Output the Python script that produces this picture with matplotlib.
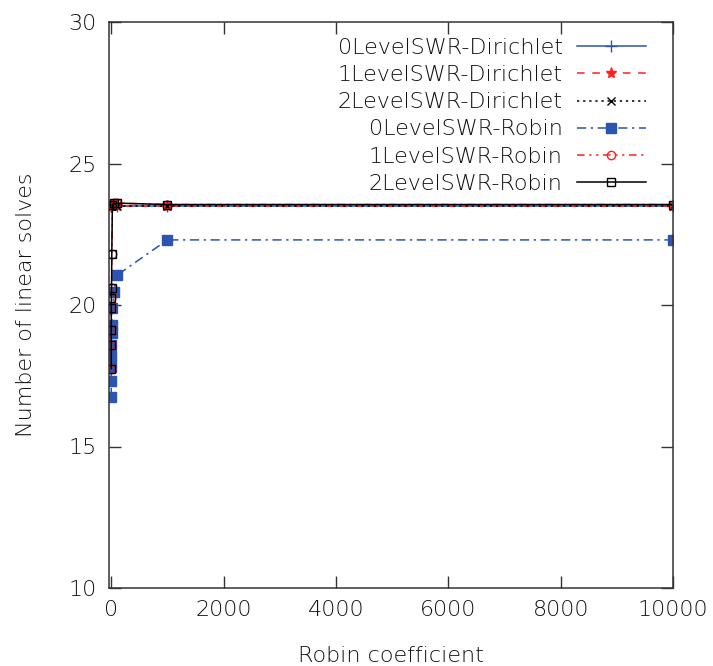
import numpy as np
import matplotlib.pyplot as plt

plt.rcParams['font.family'] = ['DejaVu Sans']
plt.rcParams['font.weight'] = 'light'
plt.rcParams['axes.labelweight'] = 'light'

# Robin coefficients (small values cluster at the left edge)
x_dir = [0.01, 0.1, 1, 10, 100, 1000, 10000]
dir0 = [23.5, 23.5, 23.5, 23.5, 23.5, 23.5, 23.5]
dir1 = [23.5, 23.5, 23.5, 23.5, 23.5, 23.5, 23.5]
dir2 = [23.5, 23.5, 23.5, 23.5, 23.5, 23.5, 23.5]

x_rob = [0.01, 0.1, 0.5, 1, 2, 5, 10, 20, 50, 100, 1000, 10000]
rob0 = [16.75, 17.3, 17.8, 18.2, 18.6, 19.0, 19.3, 19.9, 20.45, 21.05, 22.3, 22.3]
rob1 = [17.75, 18.6, 19.1, 19.9, 20.25, 20.6, 21.8, 23.55, 23.6, 23.6, 23.55, 23.55]
rob2 = [17.75, 18.6, 19.1, 19.9, 20.25, 20.6, 21.8, 23.55, 23.6, 23.6, 23.55, 23.55]

blue = '#2b55b0'
red = '#ff2020'
txt = '#111111'

fig = plt.figure(figsize=(7.13, 6.66), dpi=100)
ax = fig.add_axes([109/713, 1-588/666, 564/713, 566/666])

ax.plot(x_dir, dir0, color=blue, ls='-', lw=1.1, marker='+', ms=9, label='0LevelSWR-Dirichlet')
ax.plot(x_dir, dir1, color=red, ls=(0, (5, 5)), lw=1.1, marker='*', ms=8, label='1LevelSWR-Dirichlet')
ax.plot(x_dir, dir2, color='black', ls=(0, (1.5, 2.5)), lw=1.1, marker='x', ms=6, label='2LevelSWR-Dirichlet')
ax.plot(x_rob, rob0, color=blue, ls=(0, (6, 3, 1.5, 3)), lw=1.1, marker='s', ms=6.5, label='0LevelSWR-Robin')
ax.plot(x_rob, rob1, color=red, ls=(0, (5, 3, 1.5, 3, 1.5, 3)), lw=1.1, marker='o', ms=6,
        mfc='none', label='1LevelSWR-Robin')
ax.plot(x_rob, rob2, color='black', ls='-', lw=1.1, marker='s', ms=6, mfc='none', label='2LevelSWR-Robin')

ax.set_xlim(-40, 10000)
ax.set_ylim(10, 30)
ax.set_xticks([0, 2000, 4000, 6000, 8000, 10000])
ax.set_yticks([10, 15, 20, 25, 30])
ax.tick_params(direction='in', top=True, right=True, length=8.5, width=1, labelsize=16,
               pad=9, colors='#333333', labelcolor=txt)
for s in ax.spines.values():
    s.set_linewidth(1.1)
    s.set_color('#333333')

ax.set_xlabel('Robin coefficient', fontsize=16, color=txt, labelpad=18)
ax.set_ylabel('Number of linear solves', fontsize=16, color=txt, labelpad=23)

leg = ax.legend(loc='upper right', bbox_to_anchor=(1 - 6/564, 1 + 5/566), frameon=False,
                markerfirst=False, fontsize=16, handlelength=3.1, handletextpad=0.65,
                labelspacing=0.32, borderaxespad=0.55, borderpad=0.4)
for t in leg.get_texts():
    t.set_ha('right')
    t.set_color(txt)

fig.savefig('out.png', dpi=100)
